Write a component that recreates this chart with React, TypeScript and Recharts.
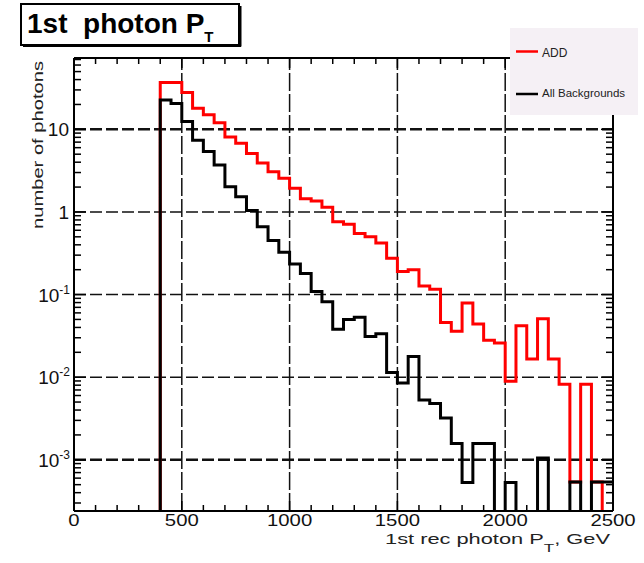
import React from "react";
import { LineChart, Line, XAxis, YAxis, ReferenceLine } from "recharts";

const FONT = '"Liberation Sans", Arial, Helvetica, sans-serif';

// histogram binning (GeV)
const BIN_START = 400;
const BIN_WIDTH = 50;
const X_MAX = 2500;

// ADD signal, entries per 50 GeV bin from 400 GeV (0 = empty bin)
const addCounts = [
  37, 37, 28, 18, 15, 12, 8.1, 6.8, 5.1, 3.9,
  3.07, 2.55, 1.93, 1.44, 1.36, 1.14, 0.76, 0.71, 0.55, 0.5,
  0.42, 0.275, 0.19, 0.2, 0.127, 0.116, 0.046, 0.036, 0.079, 0.044,
  0.028, 0.026, 0.0089, 0.042, 0.0166, 0.051, 0.0166, 0.0082, 0.00054, 0.0082,
  0.00054, 0,
];

// all backgrounds, same bins
const bkgCounts = [
  22.6, 20.6, 12.4, 7.4, 5.4, 3.7, 2.02, 1.53, 1.04, 0.66,
  0.45, 0.326, 0.235, 0.18, 0.109, 0.082, 0.038, 0.05, 0.053, 0.031,
  0.0335, 0.0114, 0.0085, 0.0178, 0.0053, 0.0048, 0.0032, 0.00157, 0.00053, 0.00157,
  0.00157, 0, 0.00053, 0, 0, 0.00105, 0, 0, 0.00054, 0,
  0.00054, 0.00054,
];

const xTicks = [
  0, 100, 200, 300, 400, 500, 600, 700, 800, 900, 1000, 1100, 1200,
  1300, 1400, 1500, 1600, 1700, 1800, 1900, 2000, 2100, 2200, 2300, 2400, 2500,
];
const xGrid = [500, 1000, 1500, 2000];
const yDecades = [0.001, 0.01, 0.1, 1, 10];

const Y_DOMAIN: [number, number] = [2.4e-4, 73];
const FLOOR = 1e-6; // empty bins, drawn below the frame and clipped

const yTicks: number[] = [];
[-4, -3, -2, -1, 0, 1].forEach((e) => {
  for (let m = 1; m <= 9; m++) {
    const v = m * Math.pow(10, e);
    if (v >= Y_DOMAIN[0] && v <= Y_DOMAIN[1]) yTicks.push(v);
  }
});

const rows: { x: number; add: number; bkg: number }[] = [
  { x: BIN_START, add: FLOOR, bkg: FLOOR },
];
addCounts.forEach((v, i) => {
  rows.push({
    x: BIN_START + i * BIN_WIDTH,
    add: v || FLOOR,
    bkg: bkgCounts[i] || FLOOR,
  });
});
rows.push({
  x: X_MAX,
  add: addCounts[addCounts.length - 1] || FLOOR,
  bkg: bkgCounts[bkgCounts.length - 1] || FLOOR,
});

function isDecade(v: number) {
  const e = Math.round(Math.log10(v));
  return Math.abs(v / Math.pow(10, e) - 1) < 1e-6;
}

const BottomTick = (props: any) => {
  const { x, y, payload } = props;
  const v = payload.value;
  const major = v % 500 === 0;
  const label = String(v);
  return (
    <g>
      <line x1={x} x2={x} y1={y} y2={y - (major ? 10 : 6)} stroke="#000" strokeWidth={1.5} />
      {major && (
        <text
          x={x}
          y={y + 15}
          textAnchor="middle"
          fontFamily={FONT}
          fontSize={16}
          textLength={label.length * 11.3}
          lengthAdjust="spacingAndGlyphs"
          fill="#111"
        >
          {label}
        </text>
      )}
    </g>
  );
};

const TopTick = (props: any) => {
  const { x, y, payload } = props;
  const major = payload.value % 500 === 0;
  return <line x1={x} x2={x} y1={y} y2={y + (major ? 10 : 6)} stroke="#000" strokeWidth={1.5} />;
};

const LeftTick = (props: any) => {
  const { x, y, payload } = props;
  const v = payload.value;
  const major = isDecade(v);
  const e = Math.round(Math.log10(v));
  return (
    <g>
      <line x1={x} x2={x + (major ? 12 : 7)} y1={y} y2={y} stroke="#000" strokeWidth={1.5} />
      {major && e >= 0 && (
        <text x={x - 5} y={y + 7} textAnchor="end" fontFamily={FONT} fontSize={19} fill="#111">
          {e === 0 ? "1" : "10"}
        </text>
      )}
      {major && e < 0 && (
        <text x={x - 4} y={y + 7} textAnchor="end" fontFamily={FONT} fontSize={19} fill="#111">
          <tspan>10</tspan>
          <tspan dy={-8} fontSize={12}>{String(e)}</tspan>
        </text>
      )}
    </g>
  );
};

const RightTick = (props: any) => {
  const { x, y, payload } = props;
  const major = isDecade(payload.value);
  return <line x1={x} x2={x - (major ? 12 : 7)} y1={y} y2={y} stroke="#000" strokeWidth={1.5} />;
};

export default function App() {
  return (
    <div style={{ position: "absolute", left: 0, top: 0, width: 644, height: 563, background: "#fff" }}>
      <LineChart
        width={644}
        height={563}
        data={rows}
        margin={{ top: 57, right: 30, bottom: 51, left: 73 }}
      >
        <XAxis
          dataKey="x"
          type="number"
          domain={[0, X_MAX]}
          ticks={xTicks}
          interval={0}
          height={1}
          tickSize={0}
          tickMargin={0}
          tickLine={false}
          tick={<BottomTick />}
          axisLine={{ stroke: "#000", strokeWidth: 2 }}
          allowDataOverflow
        />
        <XAxis
          xAxisId="top"
          orientation="top"
          dataKey="x"
          type="number"
          domain={[0, X_MAX]}
          ticks={xTicks}
          interval={0}
          height={1}
          tickSize={0}
          tickMargin={0}
          tickLine={false}
          tick={<TopTick />}
          axisLine={{ stroke: "#000", strokeWidth: 2 }}
        />
        <YAxis
          scale="log"
          type="number"
          domain={Y_DOMAIN}
          ticks={yTicks}
          interval={0}
          width={1}
          tickSize={0}
          tickMargin={0}
          tickLine={false}
          tick={<LeftTick />}
          axisLine={{ stroke: "#000", strokeWidth: 2 }}
          allowDataOverflow
        />
        <YAxis
          yAxisId="right"
          orientation="right"
          scale="log"
          type="number"
          domain={Y_DOMAIN}
          ticks={yTicks}
          interval={0}
          width={1}
          tickSize={0}
          tickMargin={0}
          tickLine={false}
          tick={<RightTick />}
          axisLine={{ stroke: "#000", strokeWidth: 2 }}
          allowDataOverflow
        />
        {xGrid.map((v) => (
          <ReferenceLine key={"gx" + v} x={v} stroke="#111" strokeWidth={1.5} strokeDasharray="18 3" />
        ))}
        {yDecades.map((v) => (
          <ReferenceLine
            key={"gy" + v}
            y={v}
            stroke="#111"
            strokeWidth={v === 10 || v === 0.001 ? 2.5 : 1.5}
            strokeDasharray="12 4"
          />
        ))}
        <Line
          dataKey="add"
          type="stepAfter"
          stroke="#ff0000"
          strokeWidth={3}
          dot={false}
          activeDot={false}
          isAnimationActive={false}
        />
        <Line
          dataKey="bkg"
          type="stepAfter"
          stroke="#000"
          strokeWidth={3}
          dot={false}
          activeDot={false}
          isAnimationActive={false}
        />
      </LineChart>
      <svg
        width={644}
        height={563}
        style={{ position: "absolute", left: 0, top: 0, pointerEvents: "none" }}
      >
        {/* title box */}
        <rect x={21} y={4} width={218} height={41} fill="#fff" stroke="#000" strokeWidth={2} />
        <line x1={240.5} x2={240.5} y1={6} y2={46.5} stroke="#000" strokeWidth={2} />
        <line x1={23} x2={241} y1={46} y2={46} stroke="#000" strokeWidth={2} />
        <text x={27} y={33} fontFamily={FONT} fontWeight="bold" fontSize={28} fill="#000" style={{ whiteSpace: "pre" }}>
          <tspan>1st  photon P</tspan>
          <tspan dy={9} fontSize={15}>T</tspan>
        </text>

        {/* legend */}
        <rect x={510} y={28} width={128} height={87} fill="#f5f0f5" />
        <line x1={516} x2={538} y1={51.5} y2={51.5} stroke="#ff0000" strokeWidth={2.5} />
        <text x={542} y={57} fontFamily={FONT} fontSize={12} fill="#222">ADD</text>
        <line x1={516} x2={538} y1={94} y2={94} stroke="#000" strokeWidth={2.5} />
        <text x={542} y={97} fontFamily={FONT} fontSize={11.5} fill="#222">All Backgrounds</text>

        {/* axis titles */}
        <text
          transform="translate(43,145) rotate(-90)"
          textAnchor="middle"
          fontFamily={FONT}
          fontSize={15}
          textLength={168}
          lengthAdjust="spacingAndGlyphs"
          fill="#222"
        >
          number of photons
        </text>
        <text
          x={385}
          y={544}
          fontFamily={FONT}
          fontSize={14}
          textLength={225}
          lengthAdjust="spacingAndGlyphs"
          fill="#222"
        >
          <tspan>1st rec photon P</tspan>
          <tspan dy={8} fontSize={11}>T</tspan>
          <tspan dy={-8}>, GeV</tspan>
        </text>
      </svg>
    </div>
  );
}
